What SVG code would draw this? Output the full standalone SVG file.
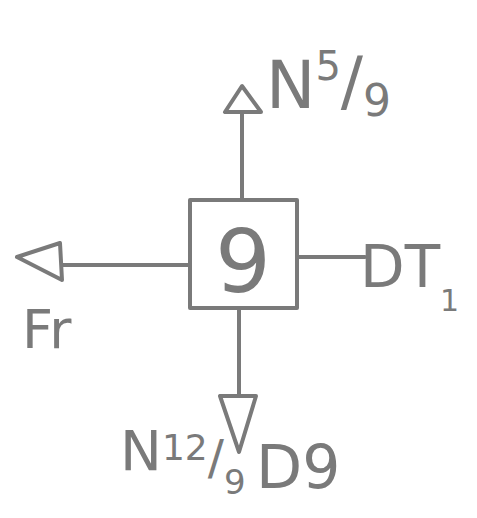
<svg xmlns="http://www.w3.org/2000/svg" width="477" height="518" viewBox="0 0 477 518">
<style>
.ln{stroke:#7a7a7a;stroke-width:4;fill:none;stroke-linecap:round;stroke-linejoin:round}
.hd{stroke:#7a7a7a;stroke-width:4;fill:#fff;stroke-linejoin:round}
.t{font-family:"DejaVu Sans",sans-serif;fill:#7a7a7a}
</style>
<rect width="477" height="518" fill="#fff"/>
<g id="connectors">
<line class="ln" x1="242" y1="200" x2="242" y2="112"/>
<polygon class="hd" points="242,86 225,112 261,112"/>
<line class="ln" x1="188" y1="265" x2="62" y2="265"/>
<polygon class="hd" points="17,257 60,243 62,280"/>
<line class="ln" x1="297" y1="257" x2="365" y2="257"/>
<line class="ln" x1="239" y1="309" x2="239" y2="396"/>
<polygon class="hd" points="220,396 256,396 239,452"/>
</g>
<g id="node-9">
<rect class="ln" x="190" y="200" width="107" height="108"/>
<text class="t" x="243" y="292" font-size="88" text-anchor="middle">9</text>
</g>
<g id="label-top">
<text class="t" x="266" y="108" font-size="66">N<tspan font-size="40" dy="-28">5</tspan><tspan font-size="66" dy="24">/</tspan><tspan font-size="44" dy="12">9</tspan></text>
</g>
<g id="label-left">
<text class="t" x="22" y="348" font-size="54">Fr</text>
</g>
<g id="label-right">
<text class="t" x="360" y="287" font-size="58">DT<tspan font-size="30" dy="24">1</tspan></text>
</g>
<g id="label-bottom-left">
<text class="t" x="120" y="470" font-size="56">N<tspan font-size="36" dy="-10">12</tspan><tspan font-size="48" dy="14">/</tspan><tspan font-size="34" dy="20">9</tspan></text>
</g>
<g id="label-bottom-right">
<text class="t" x="256" y="488" font-size="60">D9</text>
</g>
</svg>
